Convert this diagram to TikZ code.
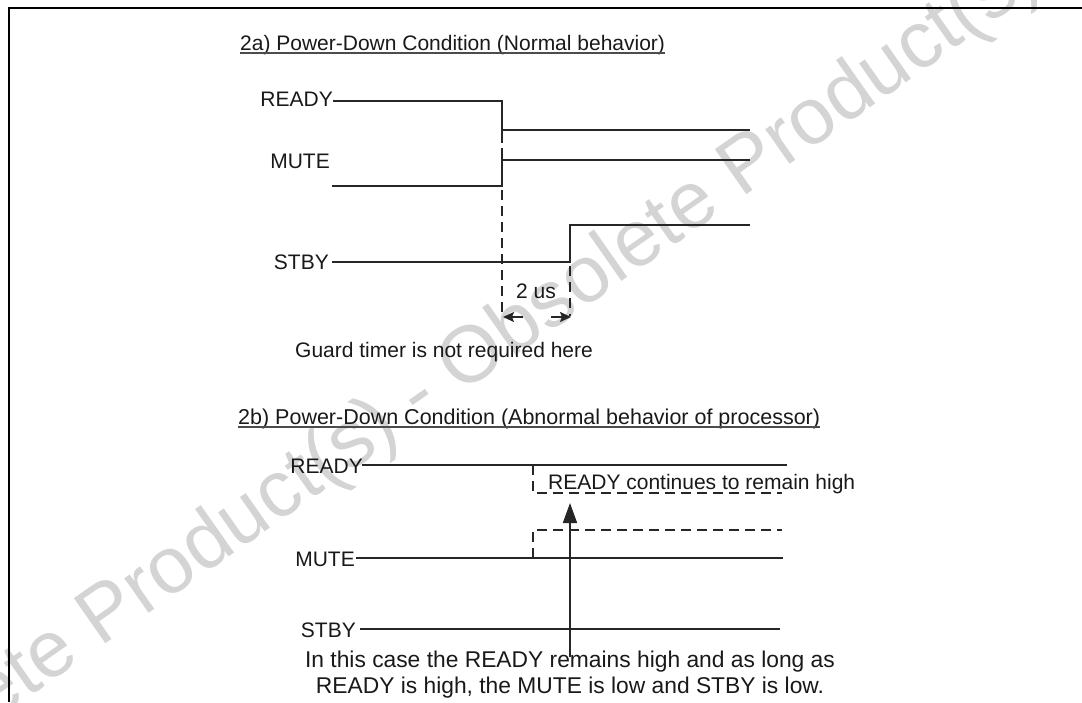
\documentclass[tikz,border=0pt]{standalone}
\usepackage{fontspec}
\setmainfont{Liberation Sans}
\usetikzlibrary{arrows.meta}
\begin{document}
\begin{tikzpicture}[x=1pt,y=-1pt,
  sig/.style={line width=1.7pt, draw=black!85},
  dsig/.style={sig, dash pattern=on 10pt off 6pt},
  lbl/.style={inner sep=0pt, font=\fontsize{21}{25}\selectfont, text=black!90},
  uline/.style={line width=1.5pt, draw=black!70},
  frame/.style={line width=1.4pt, draw=black},
  wmark/.style={inner sep=0pt, rotate=35, text=black!17, font=\fontsize{80}{96}\selectfont},
  smallarrow/.style={sig, -{Stealth[length=11pt,width=10pt,inset=2pt]}},
  bigarrow/.style={sig, -{Triangle[length=20pt,width=14pt]}}]
\useasboundingbox (0,0) rectangle (1082,702);
% watermark
\node[wmark] (wm) at (420,398) {Obsolete Product(s) - Obsolete Product(s)};
% frame
\draw[frame] (9,702) -- (9,8) -- (1082,8);
% ---------- 2a ----------
\node[lbl, anchor=base west] (t2a) at (240,50) {2a) Power-Down Condition (Normal behavior)};
\draw[uline] ([yshift=-3pt]t2a.base west) -- ([yshift=-3pt]t2a.base east);
\node[lbl, anchor=base east] (rdyA) at (333,106) {READY};
\node[lbl, anchor=base east] (mutA) at (330,168) {MUTE};
\node[lbl, anchor=base east] (stbA) at (329,269) {STBY};
% READY
\draw[sig] (333,101) -- (502,101) -- (502,143);
\draw[sig] (502,130) -- (750,130);
% MUTE
\draw[sig] (332,186) -- (502,186) -- (502,148);
\draw[sig] (502,160) -- (750,160);
% guard dashed lines
\draw[dsig] (502,190) -- (502,314);
% STBY
\draw[sig] (332,262) -- (570,262) -- (570,225) -- (750,225);
\draw[dsig] (570,266) -- (570,316);
% 2 us
\node[lbl] (tus) at (536,291) {2 us};
\coordinate (a1s) at (523,317);
\coordinate (a1e) at (503,317);
\coordinate (a2s) at (551,317);
\coordinate (a2e) at (571,317);
\draw[smallarrow] (a1s) -- (a1e);
\draw[smallarrow] (a2s) -- (a2e);
\node[lbl, anchor=base west] (guard) at (295,357) {Guard timer is not required here};
% ---------- 2b ----------
\node[lbl, anchor=base west, font=\fontsize{21.5}{25}\selectfont] (t2b) at (238,424) {2b) Power-Down Condition (Abnormal behavior of processor)};
\draw[uline] ([yshift=-3pt]t2b.base west) -- ([yshift=-3pt]t2b.base east);
\node[lbl, anchor=base east] (rdyB) at (363,473) {READY};
\node[lbl, anchor=base east] (mutB) at (355,566) {MUTE};
\node[lbl, anchor=base east] (stbB) at (356,637) {STBY};
\draw[sig] (362,465) -- (787,465);
\draw[dsig] (533,465) -- (533,493) -- (782,493);
\node[lbl, anchor=base west] (cont) at (548,489) {READY continues to remain high};
\draw[dsig] (533,558) -- (533,530) -- (782,530);
\draw[sig] (356,558) -- (783,558);
\draw[sig] (360,629) -- (780,629);
\node[lbl, align=center, anchor=base, font=\fontsize{22.8}{25.5}\selectfont] (note) at (570,693) {In this case the READY remains high and as long as\\READY is high, the MUTE is low and STBY is low.};
\coordinate (arrS) at (570,657);
\coordinate (arrE) at (570,503);
\draw[bigarrow] (arrS) -- (arrE);
\end{tikzpicture}
\end{document}
